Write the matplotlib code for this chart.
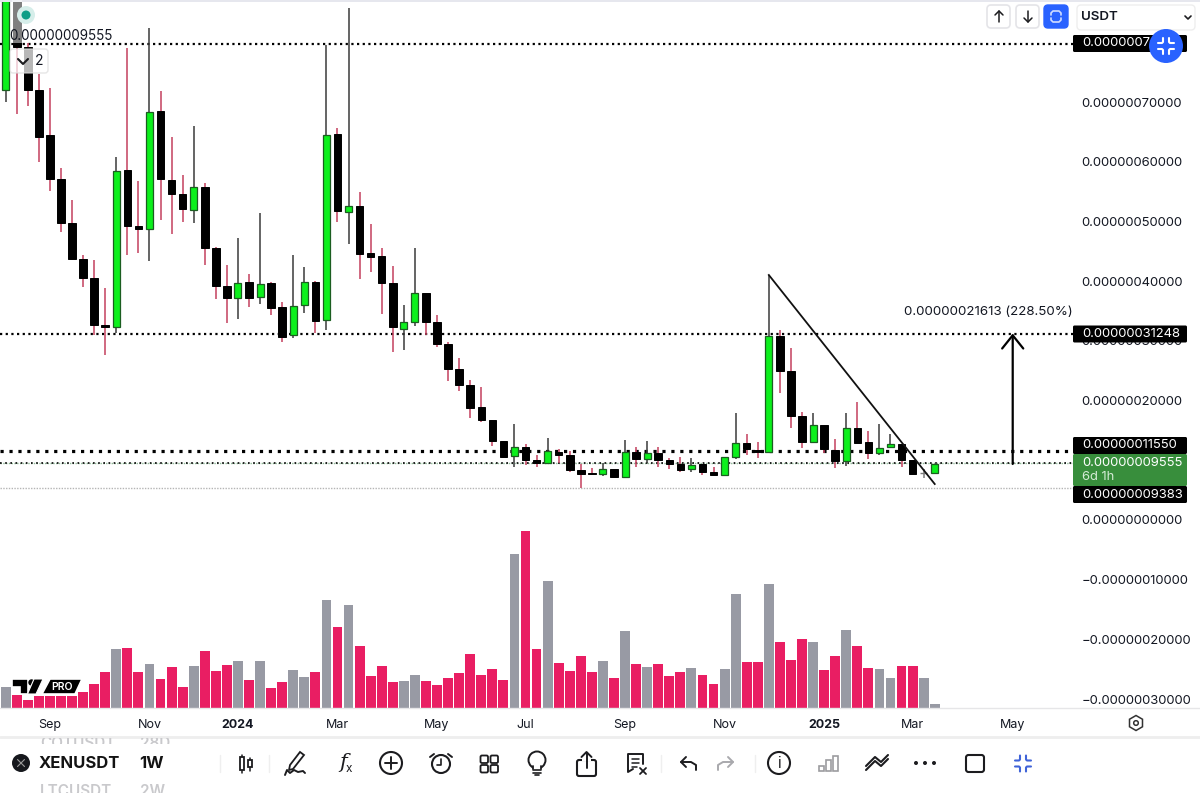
import matplotlib
matplotlib.use("Agg")
import matplotlib.pyplot as plt
from matplotlib.patches import Rectangle, Circle, FancyBboxPatch, Polygon, RegularPolygon

plt.rcParams['font.family'] = ['Inter', 'Noto Sans', 'DejaVu Sans']

# Prices are in units of 0.00000001 USDT
opens = [72.07, 92, 79.27, 72.07, 64.53, 57.15, 49.78, 43.74, 40.56, 32.6, 32.35, 58.66, 49.27, 48.77, 68.55, 56.98, 54.64,
         51.96, 55.81, 45.59, 39.22, 37.21, 39.89, 37.37, 39.72, 35.7, 31.01, 36.03, 39.89, 33.52, 64.69, 51.62, 52.63,
         44.75, 44.25, 39.72, 32.01, 33.18, 38.05, 33.18, 29.5, 25.31, 22.63, 18.94, 16.76, 13.24, 10.73, 12.23, 10.06,
         9.55, 11.4, 10.89, 8.38, 7.85, 7.71, 8.55, 7.21, 11.4, 10.22, 11.23, 10.06, 9.39, 8.55, 9.39, 8.04, 7.54, 10.56,
         12.91, 11.73, 11.4, 30.84, 24.97, 17.43, 13.07, 15.92, 11.73, 9.89, 15.42, 13.07, 11.23, 12.23, 12.74, 10.06,
         7.93, 7.88]
closes = [92, 79.27, 72.07, 64.19, 57.15, 49.78, 43.74, 40.56, 32.68, 32.35, 58.49, 49.27, 48.77, 68.38, 57.15, 54.64, 52.12,
          55.81, 45.59, 39.22, 37.21, 39.72, 37.21, 39.55, 35.53, 30.67, 35.87, 39.89, 33.35, 64.53, 51.79, 52.63, 44.58,
          44.08, 39.72, 32.35, 33.18, 38.05, 33.18, 29.5, 25.31, 22.63, 18.77, 16.76, 13.24, 10.56, 12.23, 10.06, 9.55,
          11.56, 10.89, 8.38, 7.71, 7.71, 8.55, 7.21, 11.4, 10.22, 11.23, 10.06, 9.39, 8.38, 9.22, 8.04, 7.54, 10.56, 12.91,
          11.9, 11.4, 30.84, 24.97, 17.43, 13.07, 15.92, 11.9, 9.89, 15.42, 12.91, 11.23, 12.07, 12.74, 10.06, 7.71, 7.9, 9.39]
highs = [95, 95, 79.94, 74.75, 72.4, 58.99, 53.63, 44.41, 43.58, 38.88, 60.84, 79.11, 56.82, 82.46, 71.9, 64.19, 57.82,
         66.03, 56.48, 45.75, 42.74, 47.26, 41.23, 51.45, 39.89, 36.54, 44.41, 42.4, 40.06, 79.61, 65.7, 85.81, 54.97,
         49.61, 45.59, 42.57, 36.03, 45.59, 38.05, 34.36, 29.83, 27.15, 23.46, 22.29, 16.76, 13.24, 16.09, 12.74, 10.89,
         13.74, 11.9, 11.56, 9.39, 8.72, 9.55, 8.55, 13.41, 12.23, 13.24, 12.23, 10.39, 10.56, 10.39, 9.39, 8.88, 10.56,
         17.93, 14.41, 13.07, 41.06, 31.84, 28.83, 18.1, 17.93, 15.92, 13.58, 17.93, 19.78, 14.92, 16.09, 14.41, 12.74,
         10.06, 8.55, 9.39]
lows = [70.06, 68.05, 69.39, 60.0, 55.14, 48.27, 43.58, 39.05, 31.01, 27.65, 31.34, 44.41, 44.75, 43.41, 50.28, 47.93, 49.94,
        49.78, 42.74, 37.04, 33.02, 33.69, 35.7, 36.2, 34.36, 29.83, 30.5, 34.69, 31.34, 31.84, 49.94, 46.26, 40.39,
        41.56, 34.53, 28.16, 28.49, 32.51, 31.01, 28.99, 23.3, 21.62, 17.1, 16.42, 12.4, 10.39, 8.88, 9.22, 8.88,
        9.55, 9.55, 8.04, 5.36, 7.54, 7.37, 7.04, 7.04, 8.88, 9.55, 8.88, 8.55, 8.04, 8.04, 7.54, 7.54, 7.54, 10.22,
        10.89, 10.39, 11.23, 21.29, 15.42, 12.07, 12.91, 11.23, 8.72, 9.05, 12.91, 10.22, 10.89, 12.07, 8.88, 7.71, 7.04, 7.88]

# Volume, arbitrary units
volumes = [62, 40, 25, 35, 35, 35, 35, 48, 72, 108, 178, 181, 107, 131, 87, 122, 64, 126, 172, 110, 128, 141, 85, 140, 60,
           79, 114, 93, 107, 323, 244, 309, 187, 97, 126, 77, 80, 100, 82, 68, 91, 106, 162, 100, 116, 85, 463, 530, 176,
           380, 135, 110, 157, 108, 140, 90, 230, 133, 122, 131, 96, 108, 120, 99, 73, 116, 341, 137, 139, 372, 199, 145,
           206, 198, 114, 157, 235, 185, 120, 116, 90, 125, 125, 90, 13]
volume_up = [1, 0, 0, 0, 0, 0, 0, 0, 0, 0, 1, 0, 0, 1, 0, 0, 0, 1, 0, 0, 0, 1, 0, 1, 0, 0, 1, 1, 0, 1, 0, 1, 0, 0, 0, 0, 1, 1,
             0, 0, 0, 0, 0, 0, 0, 0, 1, 0, 0, 1, 0, 0, 0, 0, 1, 0, 1, 0, 1, 0, 0, 0, 1, 0, 0, 1, 1, 0, 0, 1, 0, 0, 0, 1, 0,
             0, 1, 0, 0, 1, 1, 0, 0, 1, 1]

# Time axis
week_ticks = [4, 13, 21, 30, 39, 47, 56, 65, 74, 82, 91]
week_labels = ['Sep', 'Nov', '2024', 'Mar', 'May', 'Jul', 'Sep', 'Nov', '2025', 'Mar', 'May']

# Price axis
price_ticks = [70, 60, 50, 40, 30, 20, 0, -10, -20, -30]
price_labels = ['0.00000070000', '0.00000060000', '0.00000050000', '0.00000040000', '0.00000030000', '0.00000020000',
                '0.00000000000', '\u22120.00000010000', '\u22120.00000020000', '\u22120.00000030000']

# Drawn levels and annotations
level_top = 79.78
level_target = 31.25
level_break = 11.55
level_last = 9.555
level_low = 5.36
trend_x = [69, 84]
trend_y = [41.06, 6.03]
arrow_week = 91.05
arrow_from = 9.39
arrow_to = 31.25

INK = '#131722'
PRICE_SIZE = 9.4
fig = plt.figure(figsize=(12, 8.1), dpi=100, facecolor='white')

# ---- chart pane: 0..1073 px wide, 0..708 px high -------------------------------------
ax = fig.add_axes([0, (810 - 708) / 810, 1073 / 1200, 708 / 810])
ax.set_xlim(-0.515, -0.515 + 1073 / 11.06)
ax.set_ylim((520 - 708) / 5.967, 520 / 5.967)
for s in ax.spines.values():
    s.set_visible(False)

weeks = list(range(len(opens)))

# volume, on its own hidden scale
axv = ax.twinx()
axv.set_ylim(0, 708 * 3)
axv.set_yticks([])
for s in axv.spines.values():
    s.set_visible(False)
axv.bar(weeks, volumes, width=0.89, color=['#989aa4' if u else '#e91e63' for u in volume_up], linewidth=0, zorder=2)

ax.yaxis.tick_right()
ax.set_yticks(price_ticks)
ax.set_yticklabels(price_labels)
ax.tick_params(axis='y', length=0, pad=6.3, labelsize=PRICE_SIZE, labelcolor=INK)
ax.set_xticks(week_ticks)
ax.set_xticklabels(week_labels)
ax.tick_params(axis='x', length=0, pad=8, labelsize=9, labelcolor=INK)
for lab, txt in zip(ax.get_xticklabels(), week_labels):
    if txt.isdigit():
        lab.set_fontweight('bold')

# levels
ax.axhline(level_top, color='black', lw=1.6, ls=(0, (1, 1.55)), zorder=1)
ax.axhline(level_target, color='black', lw=1.6, ls=(0, (1, 1.55)), zorder=1)
ax.axhline(level_break, color='black', lw=2.3, ls=(0, (1, 1.8)), zorder=1)
ax.axhline(level_last, color='#8fbb98', lw=1.0, ls=(0, (1, 1)), zorder=1)
ax.axhline(level_last, color='black', lw=1.2, ls=(0, (1, 2.1)), zorder=1)
ax.axhline(level_low, color='#b5b5b5', lw=1.0, ls=(0, (1, 1)), zorder=1)

# candles
for i in weeks:
    o, c, h, l = opens[i], closes[i], highs[i], lows[i]
    up = c >= o
    doji = abs(c - o) < 0.05
    wick = '#7a7a7a' if doji else ('#3a3a3a' if up else '#c4405e')
    ax.vlines(i, l, h, color=wick, lw=1.1, zorder=2)
    if doji:
        ax.hlines(c, i - 0.32, i + 0.32, color='#7a7a7a', lw=1.0, zorder=3)
    elif up:
        ax.bar(i, c - o, bottom=o, width=0.64, color='#0cf01c', edgecolor='#1b5e20', linewidth=0.9, zorder=3)
    else:
        ax.bar(i, c - o, bottom=o, width=0.68, color='black', edgecolor='black', linewidth=0.7, zorder=3)

# drawings
ax.plot(trend_x, trend_y, color='#111111', lw=1.3, zorder=4)
ax.annotate('', xy=(arrow_week, arrow_to), xytext=(arrow_week, arrow_from),
            arrowprops=dict(arrowstyle='->,head_length=0.95,head_width=0.76', color='black', lw=1.6,
                            shrinkA=0, shrinkB=0, mutation_scale=10), zorder=4)
ax.text(arrow_week - 2.2, 34.8, '0.00000021613 (228.50%)', ha='center', va='center', fontsize=9.6, color=INK)

# ---- interface overlay, in screen pixels -----------------------------------------------
ui = fig.add_axes([0, 0, 1, 1], facecolor='none')
ui.set_xlim(0, 1200)
ui.set_ylim(810, 0)
ui.axis('off')
ui.set_zorder(10)


def seg(xs, ys, color='#1c1c1f', lw=1.4, zorder=6, **kw):
    ui.plot(xs, ys, color=color, lw=lw, solid_capstyle='round', solid_joinstyle='round', zorder=zorder, **kw)


def rbox(x, y, w, h, fc='white', ec='#e4e4e8', r=3, lw=1.0, alpha=None, z=3):
    p = FancyBboxPatch((x + r, y + r), w - 2 * r, h - 2 * r, boxstyle=f'round,pad={r}', fc=fc, ec=ec, lw=lw,
                       alpha=alpha, zorder=z)
    ui.add_patch(p)
    return p


def collapse(cx, cy, color, lw=1.5):
    for sx in (-1, 1):
        for sy in (-1, 1):
            seg([cx + sx * 8, cx + sx * 4, cx + sx * 3, cx + sx * 3],
                [cy + sy * 3, cy + sy * 3, cy + sy * 4, cy + sy * 8], color=color, lw=lw, zorder=7)


# top edge, pane separators
ui.add_patch(Rectangle((0, 0), 1200, 1.5, fc='#e6e7ee', ec='none'))
seg([0, 1200], [708, 708], color='#e6e6e8', lw=1.0, zorder=1)
seg([0, 1200], [736.5, 736.5], color='#eeeeee', lw=2.0, zorder=1)

# legend overlay at top left
ui.add_patch(Rectangle((12, 0), 10, 43, fc='white', alpha=0.5, ec='none'))
ui.add_patch(Circle((26, 15), 9, fc='#d6eeea', ec='none'))
ui.add_patch(Circle((26, 15), 4.5, fc='#0f9d86', ec='none'))
ui.text(9, 36, '0.00000009555', fontsize=9.7, color=INK, va='center', ha='left')
rbox(10, 49, 38, 24, fc='white', ec='#dddddd', alpha=0.72, r=3)
seg([18, 23, 28], [59, 64, 59], lw=1.5)
ui.text(39, 61, '2', fontsize=10, color=INK, va='center', ha='center', zorder=5)

# price labels
for top, txt in [(325.5, '0.00000031248'), (437, '0.00000011550'), (486, '0.00000009383')]:
    rbox(1073, top, 114, 17, fc='black', ec='none', r=1.5, lw=0)
    ui.text(1082, top + 8.5, txt, color='white', fontsize=PRICE_SIZE, va='center', ha='left', zorder=4)
rbox(1073, 35, 114, 17, fc='black', ec='none', r=1.5, lw=0)
ui.text(1082, 43.5, '0.0000007', color='white', fontsize=PRICE_SIZE, va='center', ha='left', zorder=4)
rbox(1073, 454, 114, 32, fc='#388e3c', ec='none', r=1.5, lw=0)
ui.text(1082, 463, '0.00000009555', color='white', fontsize=PRICE_SIZE, va='center', ha='left', zorder=4)
ui.text(1082, 477, '6d 1h', color='#d5ecd6', fontsize=PRICE_SIZE, va='center', ha='left', zorder=4)

# floating button
ui.add_patch(Circle((1166, 46), 17, fc='#2962ff', ec='none', zorder=5))
collapse(1166, 46, 'white')

# top right buttons
rbox(987, 5, 23, 23, r=4, lw=1.2)
seg([999, 999], [11, 22], lw=1.1); seg([995, 999, 1003], [15, 11, 15], lw=1.1)
rbox(1016, 5, 23, 23, r=4, lw=1.2)
seg([1028, 1028], [11, 22], lw=1.1); seg([1024, 1028, 1032], [18, 22, 18], lw=1.1)
rbox(1044, 5, 24, 23, fc='#2962ff', ec='#2962ff', r=4)
seg([1051, 1051, 1053, 1059, 1061, 1061], [15, 13, 11, 11, 13, 15], color='#cfdcff', lw=1.2)
seg([1051, 1051, 1053, 1059, 1061, 1061], [18, 20, 22, 22, 20, 18], color='#cfdcff', lw=1.2)
rbox(1077, 5, 118, 25, r=4, ec='#eeeeee')
ui.text(1081, 17, 'USDT', fontsize=9.6, color=INK, va='center', ha='left', fontweight='semibold', zorder=5)
seg([1185, 1188, 1191], [16, 19, 16], lw=1.2)

# settings hexagon
ui.add_patch(RegularPolygon((1136, 723), 6, radius=7.5, orientation=0, fc='none', ec='#333333', lw=1.1))
ui.add_patch(Circle((1136, 723), 2.3, fc='none', ec='#333333', lw=1.1))

# TradingView PRO logo
ui.add_patch(Polygon([(12, 679), (28, 679), (28, 694), (20, 694), (20, 686.5), (12, 686.5)], fc='black', ec='white', lw=1.2, zorder=4))
ui.add_patch(Circle((31.5, 682.5), 3.2, fc='black', ec='none', zorder=4))
ui.add_patch(Polygon([(34, 679), (43, 679), (36, 694), (27.5, 694)], fc='black', ec='white', lw=0.8, zorder=4))
ui.add_patch(Polygon([(50, 679), (82, 679), (75, 694), (42, 694)], fc='black', ec='white', lw=1.2, zorder=4))
ui.text(62, 686.5, 'PRO', color='white', fontsize=7.6, fontweight='semibold', ha='center', va='center', zorder=5)

# symbol bar
clip_a = Rectangle((0, 738), 1200, 6, transform=ui.transData)
clip_b = Rectangle((0, 783), 1200, 10, transform=ui.transData)
for x, txt, y, clip in [(40, 'COTUSDT', 743, clip_a), (140, '28D', 743, clip_a), (40, 'LTCUSDT', 791, clip_b), (140, '2W', 791, clip_b)]:
    t = ui.text(x, y, txt, color='#c9c9cc', fontsize=11, fontweight='semibold', va='center', ha='left')
    t.set_clip_on(True)
    t.set_clip_path(clip)
ui.add_patch(Circle((21, 763), 9, fc='#16181d', ec='none'))
seg([17.5, 24.5], [759.5, 766.5], color='#9a9a9a', lw=0.8)
seg([17.5, 24.5], [766.5, 759.5], color='#9a9a9a', lw=0.8)
ui.text(39, 763.5, 'XENUSDT', fontsize=12, fontweight='bold', color='#131313', va='center', ha='left')
ui.text(139, 763.5, '1W', fontsize=12, fontweight='bold', color='#131313', va='center', ha='left')

for x in (220, 269, 661, 755):
    seg([x, x], [755, 772], color='#efefef', lw=1.0, zorder=1)

# toolbar icons
seg([241.5, 241.5], [755, 773], lw=1.1, zorder=2)
ui.add_patch(Rectangle((239.5, 757), 4, 13, fc='white', ec='#1c1c1f', lw=1.3, zorder=3))
seg([250, 250], [758, 771], lw=1.1, zorder=2)
ui.add_patch(Rectangle((248, 760), 4, 7, fc='white', ec='#1c1c1f', lw=1.3, zorder=3))

ui.add_patch(Polygon([(289, 770), (290, 765), (300, 752), (304, 755), (293, 769)], fc='white', ec='#1c1c1f', lw=1.3))
seg([285, 287, 290, 294, 298, 303, 305], [775, 770, 773, 770, 772, 771, 773])
ui.text(343, 762, 'f', fontsize=15, color='#1c1c1f', fontstyle='italic', family='DejaVu Serif', ha='center', va='center')
ui.text(349, 769, 'x', fontsize=8.5, color='#1c1c1f', ha='center', va='center')
ui.add_patch(Circle((391, 763), 11, fc='none', ec='#1c1c1f', lw=1.5))
seg([385, 397], [763, 763]); seg([391, 391], [757, 769])
ui.add_patch(Circle((441, 764), 9, fc='none', ec='#1c1c1f', lw=1.5))
seg([441, 441, 437], [759, 765, 765], lw=1.2)
seg([430, 434], [757, 754], lw=1.4); seg([448, 452], [754, 757], lw=1.4)
for gx in (480.5, 490.5):
    for gy in (755.5, 765):
        rbox(gx, gy, 7.5, 7.5, fc='white', ec='#1c1c1f', r=1.5, lw=1.3)
ui.add_patch(Circle((537, 760), 8.5, fc='none', ec='#1c1c1f', lw=1.4))
ui.add_patch(Rectangle((533, 766), 8, 4, fc='white', ec='none', zorder=2.5))
seg([533, 533], [766, 769], lw=1.3); seg([541, 541], [766, 769], lw=1.3)
seg([533, 541], [770, 770], lw=1.2); seg([533, 541], [772.5, 772.5], lw=1.2); seg([535, 539], [775, 775], lw=1.2)
rbox(577, 760, 19, 16, fc='none', ec='#1c1c1f', r=2, lw=1.5)
ui.add_patch(Rectangle((582, 755), 9, 6, fc='white', ec='none', zorder=4))
seg([586.5, 586.5], [753, 768]); seg([581.5, 586.5, 591.5], [757, 752, 757])
seg([643, 643, 628, 628, 633], [764, 754, 754, 772, 769])
seg([632, 639], [759, 759], lw=1.1); seg([632, 639], [763, 763], lw=1.1); seg([632, 637], [767, 767], lw=1.1)
seg([640, 646], [768, 774], lw=1.3); seg([646, 640], [768, 774], lw=1.3)
seg([686, 681, 686], [757, 762, 767]); seg([681, 691, 696, 696], [762, 762, 765, 770])
seg([728, 733, 728], [757, 762, 767], color='#a9a9ad'); seg([733, 723, 718, 718], [762, 762, 765, 770], color='#a9a9ad')
ui.add_patch(Circle((779, 763), 11, fc='none', ec='#1c1c1f', lw=1.5))
ui.text(779, 763.5, 'i', fontsize=11, color='#1c1c1f', ha='center', va='center')
for bx, by in [(819, 766), (826, 760), (833, 756)]:
    ui.add_patch(Rectangle((bx, by), 5, 771 - by, fc='none', ec='#9c9c9f', lw=1.2))
for dy in (0, 4):
    seg([866, 875, 881, 888], [768 + dy - 2, 759 + dy - 2, 764 + dy - 2, 757 + dy - 2], lw=1.5)
for dx in (916, 925, 934):
    ui.add_patch(Circle((dx, 763), 2, fc='#1c1c1f', ec='none'))
rbox(966, 755, 18, 17, fc='none', ec='#1c1c1f', r=2.5, lw=1.5)
collapse(1023, 763.5, '#3f63d8')

fig.savefig('out.png', dpi=100)
